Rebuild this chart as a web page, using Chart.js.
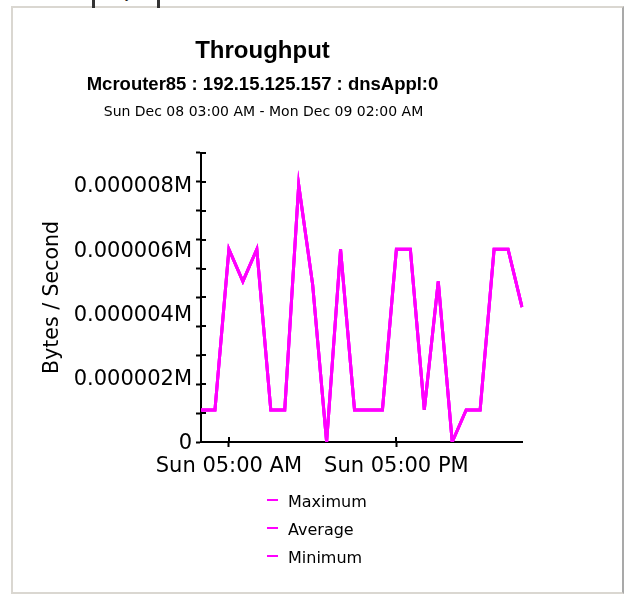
<!DOCTYPE html>
<html><head><meta charset="utf-8">
<script src="https://cdn.jsdelivr.net/npm/chart.js@4.4.0/dist/chart.umd.min.js"></script>
<style>
html,body{margin:0;padding:0;background:#fff;width:626px;height:595px;overflow:hidden;position:relative}
#frame{position:absolute;left:11px;top:6px;width:613px;height:588px;box-sizing:border-box;border:2px solid #dad7d1;border-right-color:#a9a9a9;}
#tabL{position:absolute;left:92px;top:0;width:3px;height:8px;background:#333}
#tabR{position:absolute;left:157px;top:0;width:3px;height:8px;background:#333}
#tabText{position:absolute;left:101px;top:-15px;font:14px "Liberation Sans",Arial,sans-serif;color:#222}
canvas{position:absolute;left:0;top:0}
</style></head><body>
<div id="frame"></div>
<div id="tabL"></div><div id="tabText">Daily</div><div id="tabR"></div>
<canvas id="c" width="626" height="595"></canvas>
<script>
const chartTitle = 'Throughput';
const chartSubtitle = 'Mcrouter85 : 192.15.125.157 : dnsAppl:0';
const dateRange = 'Sun Dec 08 03:00 AM - Mon Dec 09 02:00 AM';
const yAxisTitle = 'Bytes / Second';
const timeLabels = ['Sun 03:00 AM','Sun 04:00 AM','Sun 05:00 AM','Sun 06:00 AM','Sun 07:00 AM','Sun 08:00 AM',
  'Sun 09:00 AM','Sun 10:00 AM','Sun 11:00 AM','Sun 12:00 PM','Sun 01:00 PM','Sun 02:00 PM','Sun 03:00 PM',
  'Sun 04:00 PM','Sun 05:00 PM','Sun 06:00 PM','Sun 07:00 PM','Sun 08:00 PM','Sun 09:00 PM','Sun 10:00 PM',
  'Sun 11:00 PM','Mon 12:00 AM','Mon 01:00 AM','Mon 02:00 AM'];
const seriesNames = ['Maximum','Average','Minimum'];
const maximumValues = [0.000001,0.000001,0.000006,0.000005,0.000006,0.000001,0.000001,0.000008,0.0000049,0,
  0.000006,0.000001,0.000001,0.000001,0.000006,0.000006,0.000001,0.000005,0,0.000001,0.000001,0.000006,0.000006,0.0000042];
const averageValues = [0.000001,0.000001,0.000006,0.000005,0.000006,0.000001,0.000001,0.000008,0.0000049,0,
  0.000006,0.000001,0.000001,0.000001,0.000006,0.000006,0.000001,0.000005,0,0.000001,0.000001,0.000006,0.000006,0.0000042];
const minimumValues = [0.000001,0.000001,0.000006,0.000005,0.000006,0.000001,0.000001,0.000008,0.0000049,0,
  0.000006,0.000001,0.000001,0.000001,0.000006,0.000006,0.000001,0.000005,0,0.000001,0.000001,0.000006,0.000006,0.0000042];
const xTickLabels = ['Sun 05:00 AM','Sun 05:00 PM'];
const yLabelValues = [0,0.000002,0.000004,0.000006,0.000008];
const yMinorTicks = [0,0.0000009,0.0000018,0.0000027,0.0000036,0.0000045,0.0000054,0.0000063,0.0000072,0.0000081,0.000009];
const yMax = 0.000009;

const seriesColor = '#ff00ff';
const near = (a,b)=>Math.abs(a-b)<1e-12;
const isLabelVal = v => yLabelValues.some(l=>near(l,v));
const isMinorVal = v => yMinorTicks.some(l=>near(l,v));
const yTickValues = [...yMinorTicks, ...yLabelValues.filter(v=>!isMinorVal(v))].sort((a,b)=>a-b);
const xTickIdx = xTickLabels.map(l=>timeLabels.indexOf(l));
const fmtY = v => v===0 ? '0' : v.toFixed(6)+'M';

const decor = {
  id:'decor',
  afterDraw(chart){
    const {ctx, chartArea:a, scales:{x,y}} = chart;
    ctx.save();
    ctx.strokeStyle='#000'; ctx.lineWidth=2;
    ctx.beginPath();
    x.ticks.forEach((t,i)=>{ const px=Math.round(x.getPixelForTick(i)); ctx.moveTo(px,a.bottom); ctx.lineTo(px,a.bottom-5); });
    y.ticks.forEach((t,i)=>{ if(isMinorVal(t.value)){ const py=Math.round(y.getPixelForTick(i)); ctx.moveTo(a.left,py); ctx.lineTo(a.left+5,py);} });
    ctx.stroke();
    const tb = chart.titleBlock;
    ctx.fillStyle='#000'; ctx.textAlign='center'; ctx.textBaseline='middle';
    ctx.font='14px "DejaVu Sans"';
    ctx.fillText(dateRange,(tb.left+tb.right)/2+1,a.top-41);
    // legend
    ctx.textAlign='left';
    ctx.font='16px "DejaVu Sans"';
    chart.data.datasets.forEach((ds,i)=>{
      const ly = a.bottom+58+i*28;
      ctx.strokeStyle=ds.borderColor; ctx.lineWidth=2;
      ctx.beginPath(); ctx.moveTo(a.left+66,ly); ctx.lineTo(a.left+77,ly); ctx.stroke();
      ctx.fillStyle='#000';
      ctx.fillText(ds.label,a.left+87,ly+2.5);
    });
    ctx.restore();
  }
};

const mkDs = (label,data)=>({label,data,borderColor:seriesColor,backgroundColor:seriesColor,borderWidth:3,pointRadius:0,tension:0,fill:false});

new Chart(document.getElementById('c'),{
  type:'line',
  data:{labels:timeLabels,datasets:[mkDs(seriesNames[0],maximumValues),mkDs(seriesNames[1],averageValues),mkDs(seriesNames[2],minimumValues)]},
  options:{
    responsive:false,animation:false,
    layout:{padding:{left:3,right:104,top:0,bottom:108.8}},
    plugins:{
      legend:{display:false},tooltip:{enabled:false},
      title:{display:true,text:chartTitle,color:'#000',font:{family:'"Liberation Sans", Arial',size:24,weight:'bold'},padding:{top:37,bottom:8}},
      subtitle:{display:true,text:chartSubtitle,color:'#000',font:{family:'"Liberation Sans", Arial',size:18.5,weight:'bold'},padding:{top:0,bottom:56.9}}
    },
    scales:{
      x:{type:'category',offset:false,
        afterBuildTicks:s=>{s.ticks=xTickIdx.map(i=>({value:i}));},
        ticks:{autoSkip:false,maxRotation:0,padding:7,color:'#000',font:{family:'"DejaVu Sans"',size:21},callback:v=>timeLabels[v]},
        grid:{drawOnChartArea:false,drawTicks:true,tickLength:5,tickWidth:2,tickColor:'#000'},
        border:{display:true,color:'#000',width:2}
      },
      y:{min:0,max:yMax,
        afterBuildTicks:s=>{s.ticks=yTickValues.map(v=>({value:v}));},
        afterFit:s=>{s.width=198;},
        ticks:{autoSkip:false,padding:4,labelOffset:2,color:'#000',font:{family:'"DejaVu Sans"',size:21},callback:v=>isLabelVal(v)?fmtY(v):''},
        grid:{drawOnChartArea:false,drawTicks:true,tickLength:5,tickWidth:2,tickColor:c=>isMinorVal(c.tick.value)?'#000':'rgba(0,0,0,0)'},
        border:{display:true,color:'#000',width:2},
        title:{display:true,text:yAxisTitle,color:'#000',font:{family:'"DejaVu Sans"',size:20.5},padding:{top:37,bottom:0}}
      }
    }
  },
  plugins:[decor]
});
</script>
</body></html>
